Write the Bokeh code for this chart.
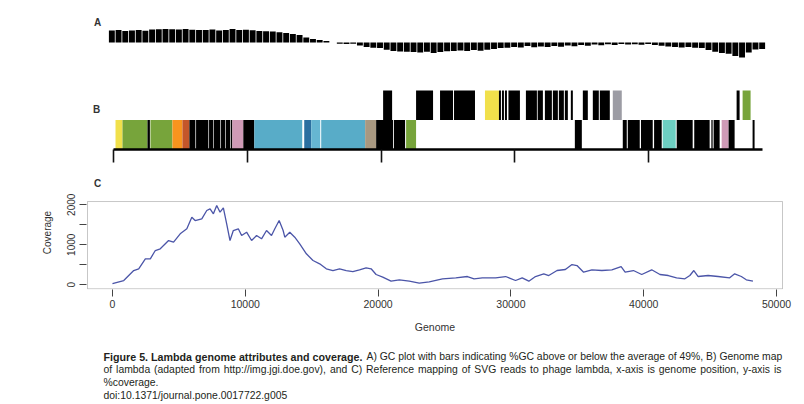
from bokeh.plotting import figure
from bokeh.layouts import column
from bokeh.models import Range1d, FixedTicker, ColumnDataSource, BoxAnnotation
from bokeh.embed import file_html
from bokeh.resources import INLINE
from bokeh.core.properties import value

# ---------------- data ----------------
# Panel A: %GC per 500 bp window (average 49%)
gc_window = 500
gc_average = 49
gc_dev = [6.0, 6.2, 5.8, 6.0, 6.3, 5.9, 6.5, 6.6, 6.8, 6.6, 6.5, 6.7, 6.4, 6.3, 6.2, 6.5,
          6.0, 6.3, 6.8, 6.2, 6.4, 6.1, 5.8, 5.6, 5.5, 5.1, 4.8, 4.2, 3.8, 2.5, 1.8, 1.2,
          0.8, 0.0, -0.6, -0.8, -0.6, -1.5, -2.2, -2.6, -2.8, -3.6, -4.2, -4.5, -4.6, -4.8,
          -5.0, -4.6, -5.2, -4.8, -4.4, -4.2, -4.0, -4.3, -3.8, -4.1, -3.6, -3.2, -2.8, -2.6,
          -2.2, -2.5, -1.8, -2.4, -2.0, -2.3, -1.7, -2.1, -1.5, -1.9, -1.2, -1.6, -1.0, -1.4,
          -0.9, -1.2, -0.8, -1.0, -0.9, -1.1, -0.8, -1.2, -1.6, -2.0, -2.2, -2.5, -2.3, -2.6,
          -2.8, -3.8, -4.6, -5.2, -5.6, -6.8, -7.5, -5.0, -3.5, -3.2]
gc_percent = [gc_average + d for d in gc_dev]

# Panel B: genome map (lambda, 48502 bp)
genome_length = 48502
YEL, GRN, ORG, RUS, PNK = "#f1e04b", "#77a43b", "#f7941e", "#c4562a", "#cf9ab6"
LBL, DBL, LB2, TAN, GRY, TEA, BLK = "#58acc8", "#2b6fa0", "#66b6d2", "#a89880", "#9c9ca4", "#6dcfc2", "#000000"

lower_start = [150, 672, 2540, 2761, 4403, 5149, 5672, 6170, 7140, 7510, 8035, 8405, 8780,
               8881, 9701, 10522, 14254, 14776, 15522, 18806, 19627, 20960, 21866,
               34478, 38060, 38433, 39420, 40400, 41045, 42090, 43400, 44680, 44851,
               45448, 45970, 47761]
lower_end = [672, 2540, 2720, 4403, 5149, 5672, 6119, 7090, 7463, 7985, 8358, 8731, 8881,
             9701, 10522, 14104, 14776, 15448, 18806, 19627, 20896, 21791, 22612,
             35000, 38358, 39328, 40299, 40970, 42015, 43284, 44552, 44776, 45299,
             45970, 46418, 47910]
lower_color = [YEL, GRN, BLK, GRN, ORG, RUS, BLK, BLK, BLK, BLK, BLK, BLK, BLK,
               PNK, BLK, LBL, DBL, LB2, LBL, TAN, BLK, BLK, GRN,
               BLK, BLK, BLK, BLK, BLK, TEA, BLK, BLK, BLK, BLK,
               PNK, BLK, BLK]

upper_start = [20149, 22612, 24403, 25448, 27761, 28806, 29030, 29254, 29515, 30821, 31700,
               32239, 32836, 33284, 33731, 34179, 35075, 35821, 36343, 37313, 46567, 47015]
upper_end = [20821, 23881, 25373, 27015, 28806, 28955, 29179, 29403, 30373, 31642, 32090,
             32761, 33209, 33657, 33955, 34328, 35448, 36269, 37090, 37985, 46791, 47612]
upper_color = [BLK, BLK, BLK, BLK, YEL, BLK, BLK, BLK, BLK, BLK, BLK,
               BLK, BLK, BLK, BLK, BLK, BLK, BLK, BLK, GRY, BLK, GRN]
map_ticks = [0, 10000, 20000, 30000, 40000]

# Panel C: coverage along the genome
cov_pos = [0, 850, 1600, 1975, 2475, 2850, 3225, 3600, 4225, 4600, 5100, 5600, 5975, 6225,
           6725, 7100, 7350, 7600, 7850, 8100, 8350, 8600, 8850, 9100, 9475, 9725, 10100,
           10475, 10850, 11225, 11600, 11975, 12225, 12550, 12850, 12975, 13350, 13725,
           14100, 14600, 15100, 15600, 16100, 16600, 17100, 17600, 18100, 18600, 19100,
           19475, 19850, 20350, 20975, 21600, 22350, 23100, 23850, 24850, 25850, 26725,
           27225, 27850, 28850, 29600, 30350, 30850, 31350, 31850, 32475, 32850, 33475,
           34100, 34600, 34975, 35475, 36100, 36850, 37600, 38300, 38600, 39225, 39850,
           40600, 41225, 41850, 42475, 43100, 43475, 43775, 44100, 44850, 45600, 46475,
           46850, 47350, 47725, 48225]
cov_val = [30, 107, 357, 400, 650, 650, 857, 900, 1107, 1065, 1275, 1400, 1690, 1607,
           1650, 1857, 1900, 1775, 1982, 1815, 1925, 1525, 1107, 1357, 1400, 1232, 1315,
           1107, 1232, 1150, 1357, 1232, 1400, 1607, 1357, 1190, 1315, 1190,
           1025, 775, 607, 525, 400, 357, 400, 357, 332, 375, 425,
           400, 257, 190, 90, 125, 90, 40, 75, 150, 175, 207,
           150, 175, 175, 207, 107, 175, 90, 207, 275, 232, 357,
           382, 507, 482, 315, 375, 357, 375, 457, 315, 357, 257,
           375, 257, 232, 175, 150, 232, 357, 207, 232, 207, 175,
           275, 207, 125, 90]
cov_xticks = [0, 10000, 20000, 30000, 40000, 50000]
cov_yticks = [0, 500, 1000, 1500, 2000]
cov_ylabels = {500: "", 1500: ""}
cov_box = dict(left=-1880, right=50450, bottom=-100, top=2082)   # R plot box (4% padding)

caption_bold = "Figure 5. Lambda genome attributes and coverage."
caption_line1 = "A) GC plot with bars indicating %GC above or below the average of 49%, B) Genome map"
caption_line2 = ("of lambda (adapted from http://img.jgi.doe.gov), and C) Reference mapping of SVG "
                 "reads to phage lambda, x-axis is genome position, y-axis is")
caption_line3 = "%coverage."
caption_line4 = "doi:10.1371/journal.pone.0017722.g005"

# ---------------- figures ----------------
W = 800
BL, BR = 86, W - 783     # common borders: frames span page x 86..783
FONT = "Liberation Sans"


def make_fig(h, xr, yr, top, bottom, xaxis=None, yaxis=None):
    p = figure(width=W, height=h, x_range=xr, y_range=yr, output_backend="svg",
               toolbar_location=None, x_axis_location=xaxis, y_axis_location=yaxis,
               min_border_left=BL, min_border_right=BR,
               min_border_top=top, min_border_bottom=bottom)
    p.grid.visible = False
    p.outline_line_color = None
    p.background_fill_color = "white"
    p.border_fill_color = "white"
    return p


letter_kw = dict(text_font=value(FONT), text_font_style="bold", text_font_size="10px",
                 text_color="#333333", text_align="center", text_baseline="middle")

# Panel A  (0 bp at page x 108, 49000 bp at page x 765)
n_win = len(gc_percent)
pa = make_fig(70, Range1d(-1641, 50342), Range1d(35, 70), 0, 0)
src_a = ColumnDataSource(dict(
    x=[(i + 0.5) * gc_window for i in range(n_win)],
    top=gc_percent,
    bottom=[gc_average] * n_win))
pa.vbar(x="x", width=gc_window * 0.88, top="top", bottom="bottom", source=src_a,
        fill_color="black", line_color=None)
pa.text(x=[-820], y=[59], text=["A"], **letter_kw)

# Panel B  (0 bp at page x 113, 48502 bp at page x 762)
pb = make_fig(105, Range1d(-2018, 50071), Range1d(0, 2.678), 0, 26, xaxis="below")
pb.quad(left=lower_start, right=lower_end, bottom=0, top=1, fill_color=lower_color, line_color=None)
pb.quad(left=upper_start, right=upper_end, bottom=1, top=2, fill_color=upper_color, line_color=None)
ax = pb.xaxis[0]
ax.bounds = (0, genome_length)
ax.ticker = FixedTicker(ticks=map_ticks)
ax.major_label_overrides = {t: "" for t in map_ticks}
ax.axis_line_width = 2.5
ax.axis_line_color = "black"
ax.major_tick_line_width = 1.6
ax.major_tick_line_color = "#111111"
ax.major_tick_out = 13
ax.major_tick_in = 0
ax.minor_tick_line_color = None
pb.text(x=[-1270], y=[1.356], text=["B"], **letter_kw)

# Panel C  (frame page y 175..289; plot box page x 87..782, y 201..288)
pc = make_fig(160, Range1d(-1955, 50525), Range1d(-117.5, 2732.5), 0, 46,
              xaxis="below", yaxis="left")
pc.add_layout(BoxAnnotation(fill_color=None, line_color="#444444", line_width=1, **cov_box))
pc.line(cov_pos, cov_val, line_color="#4b55a8", line_width=1.3)
pc.text(x=[-1127], y=[2532], text=["C"], **letter_kw)
xa = pc.xaxis[0]
xa.ticker = FixedTicker(ticks=cov_xticks)
xa.axis_line_color = None
xa.major_tick_out = 7
xa.major_tick_in = 0
xa.major_tick_line_color = "#444444"
xa.minor_tick_line_color = None
xa.major_label_text_font = FONT
xa.major_label_text_font_size = "10.5px"
xa.major_label_text_color = "#333333"
xa.major_label_standoff = 3
xa.axis_label = "Genome"
xa.axis_label_text_font = FONT
xa.axis_label_text_font_style = "normal"
xa.axis_label_text_font_size = "10.5px"
xa.axis_label_text_color = "#333333"
xa.axis_label_standoff = 10
ya = pc.yaxis[0]
ya.ticker = FixedTicker(ticks=cov_yticks)
ya.major_label_overrides = cov_ylabels
ya.axis_line_color = None
ya.major_tick_out = 7
ya.major_tick_in = 0
ya.major_tick_line_color = "#444444"
ya.minor_tick_line_color = None
ya.major_label_orientation = "vertical"
ya.major_label_text_font = FONT
ya.major_label_text_font_size = "10px"
ya.major_label_text_color = "#333333"
ya.major_label_standoff = 4
ya.axis_label = "Coverage"
ya.axis_label_text_font = FONT
ya.axis_label_text_font_style = "normal"
ya.axis_label_text_font_size = "10px"
ya.axis_label_text_color = "#333333"
ya.axis_label_standoff = 12

# Caption (page pixel coordinates); line 2 is justified word by word
pd_ = make_fig(69, Range1d(86, 783), Range1d(404, 335), 0, 0)
cap_kw = dict(text_font=value(FONT), text_color="#231f20", text_baseline="middle",
              text_font_size="10.4px", text_align="left")
pd_.text(x=[103], y=[356], text=[caption_bold], text_font_style="bold",
         text_align="left", text_font=value(FONT), text_color="#231f20",
         text_baseline="middle", text_font_size="10.7px")
pd_.text(x=[366, 103, 103], y=[356, 382, 395],
         text=[caption_line1, caption_line3, caption_line4], **cap_kw)
line2_words = caption_line2.split(" ")
line2_x = [103, 115.6, 153.6, 198.5, 223.2, 329.4, 350.7, 365.6, 417.4, 461.2, 473.8,
           499.7, 529.6, 542.1, 575.0, 615.8, 646.9, 658.3, 699.8, 742.4, 773.5]
pd_.text(x=line2_x, y=[369] * len(line2_words), text=line2_words, **cap_kw)

layout = column(pa, pb, pc, pd_, spacing=0)
open("out.html", "w").write(file_html(layout, INLINE))
